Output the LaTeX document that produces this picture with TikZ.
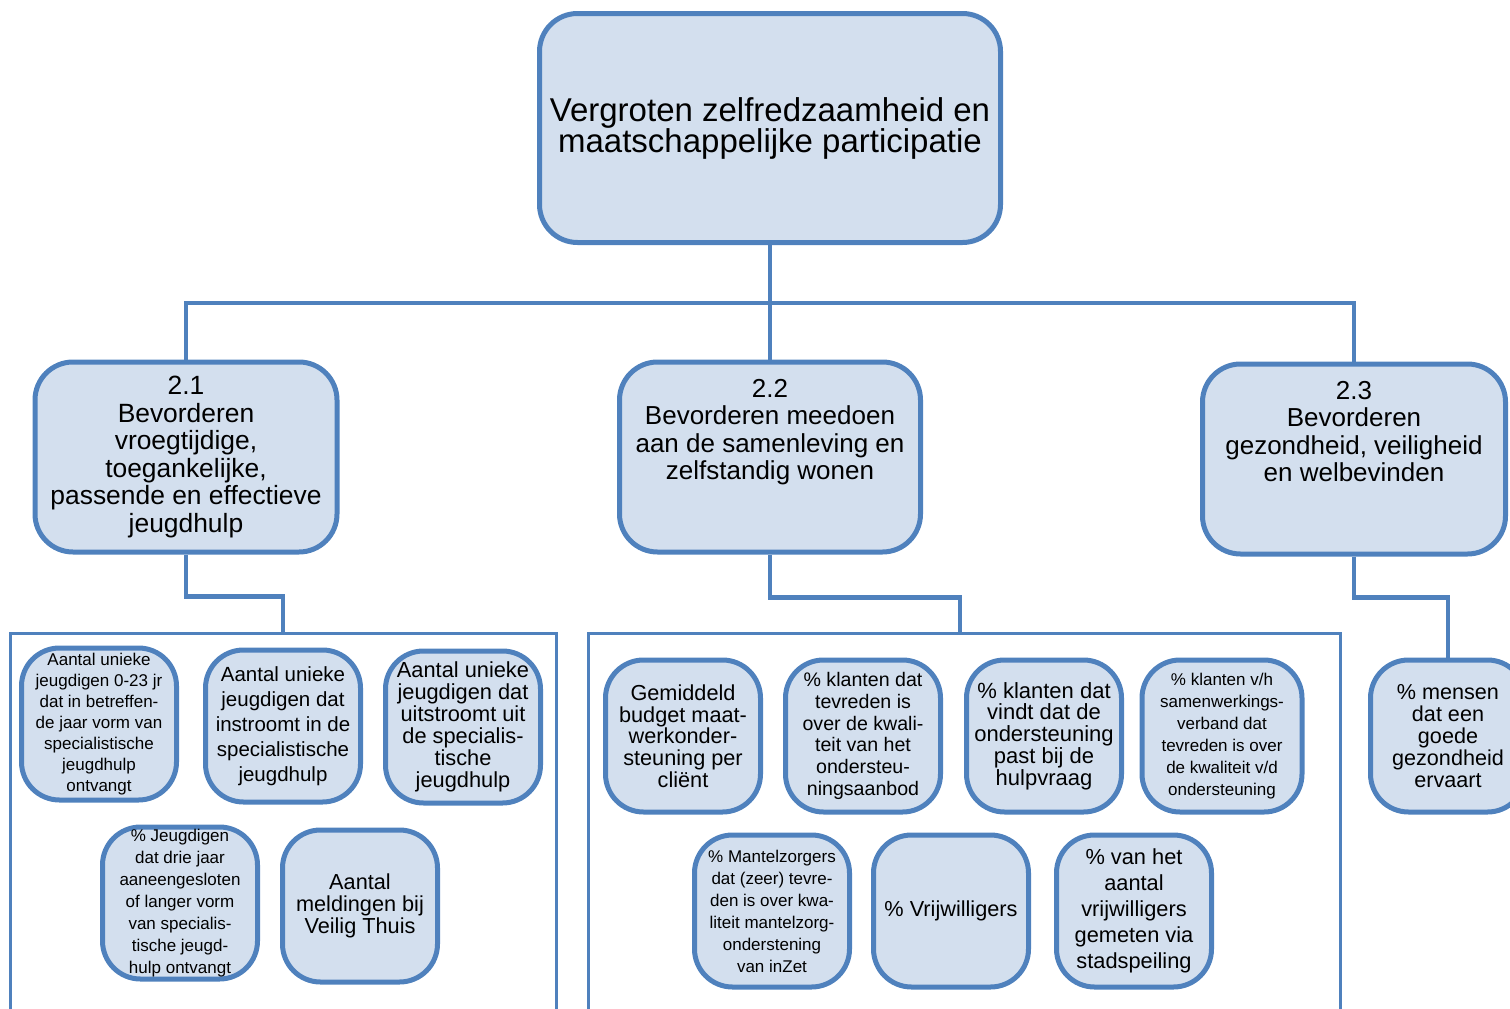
\documentclass[tikz,border=0pt]{standalone}
\usepackage{fontspec}
\setmainfont{Liberation Sans}
\definecolor{boxline}{HTML}{4F81BD}
\definecolor{boxfill}{HTML}{D3DFEE}
\newcommand{\boxtxt}[2]{\fontsize{#1}{#2}\selectfont\lineskiplimit=-100pt\relax}
\tikzset{
  goal/.style={draw=boxline, fill=boxfill, line width=5pt, rounded corners=38pt, align=center, inner sep=0pt},
  leaf/.style={goal, minimum width=155pt, minimum height=152pt},
  link/.style={draw=boxline, line width=4.5pt},
  group/.style={draw=boxline, line width=3pt},
}

\begin{document}
\begin{tikzpicture}[x=1pt,y=-1pt]
\useasboundingbox (0,0) rectangle (1510,1009);

% Top box
\node[goal, minimum width=461pt, minimum height=229pt, font=\boxtxt{33}{31}] (root) at (770,128)
  {Vergroten zelfredzaamheid en\\maatschappelijke participatie};

% Sub-goals
\node[goal, minimum width=302pt, minimum height=190pt, font=\boxtxt{26.4}{27.6}] (b21) at (186,457)
  {2.1\\Bevorderen\\vroegtijdige,\\toegankelijke,\\passende en effectieve\\jeugdhulp};
\node[goal, minimum width=301pt, minimum height=190pt, font=\boxtxt{26}{27.6}] (b22) at (770,457)
  {2.2\\Bevorderen meedoen\\aan de samenleving en\\zelfstandig wonen\\\mbox{}\\\mbox{}};
\node[goal, minimum width=303pt, minimum height=190pt, font=\boxtxt{26}{27.6}] (b23) at (1354,459)
  {2.3\\Bevorderen\\gezondheid, veiligheid\\en welbevinden\\\mbox{}\\\mbox{}};

\draw[link] (root.south) -- ++(0,58) -| (b21.north);
\draw[link] (root.south) -- ++(0,58) -| (b23.north);
\draw[link] (root.south) -- (b22.north);

% Left-hand group
\draw[group] (10,1015) |- (556,633) -- (556,1015);
\coordinate (g21) at (283,633);
\draw[link] (b21.south) -- ++(0,42) -| (g21);

\node[leaf, font=\boxtxt{17}{21}] (l1) at (99,724)
  {Aantal unieke\\jeugdigen 0-23 jr\\dat in betreffen-\\de jaar vorm van\\specialistische\\jeugdhulp\\ontvangt};
\node[leaf, font=\boxtxt{20.5}{25}] (l2) at (283,726)
  {Aantal unieke\\jeugdigen dat\\instroomt in de\\specialistische\\jeugdhulp};
\node[leaf, font=\boxtxt{21.8}{22}] (l3) at (463,727)
  {Aantal unieke\\jeugdigen dat\\uitstroomt uit\\de specialis-\\tische\\jeugdhulp};
\node[leaf, font=\boxtxt{17}{22}] (l4) at (180,903)
  {\% Jeugdigen\\dat drie jaar\\aaneengesloten\\of langer vorm\\van specialis-\\tische jeugd-\\hulp ontvangt};
\node[leaf, font=\boxtxt{21.7}{22}] (l5) at (360,906)
  {Aantal\\meldingen bij\\Veilig Thuis};

% Middle group
\draw[group] (588,1015) |- (1340,633) -- (1340,1015);
\coordinate (g22) at (960,633);
\draw[link] (b22.south) -- ++(0,43) -| (g22);

\node[leaf, font=\boxtxt{21.7}{21.7}] (m1) at (683,736)
  {Gemiddeld\\budget maat-\\werkonder-\\steuning per\\cliënt};
\node[leaf, font=\boxtxt{19.6}{21.7}] (m2) at (863,736)
  {\% klanten dat\\tevreden is\\over de kwali-\\teit van het\\ondersteu-\\ningsaanbod};
\node[leaf, font=\boxtxt{22}{21.7}] (m3) at (1044,736)
  {\% klanten dat\\vindt dat de\\ondersteuning\\past bij de\\hulpvraag};
\node[leaf, minimum width=160pt, font=\boxtxt{17}{22}] (m4) at (1222,736)
  {\% klanten v/h\\samenwerkings-\\verband dat\\tevreden is over\\de kwaliteit v/d\\ondersteuning};
\node[leaf, font=\boxtxt{17}{22}] (m5) at (772,911)
  {\% Mantelzorgers\\dat (zeer) tevre-\\den is over kwa-\\liteit mantelzorg-\\onderstening\\van inZet};
\node[leaf, font=\boxtxt{21.7}{22}] (m6) at (951,911)
  {\% Vrijwilligers};
\node[leaf, font=\boxtxt{21.8}{26}] (m7) at (1134,911)
  {\% van het\\aantal\\vrijwilligers\\gemeten via\\stadspeiling};

% Right-hand leaf
\node[leaf, font=\boxtxt{21.6}{22}] (r1) at (1448,736)
  {\% mensen\\dat een\\goede\\gezondheid\\ervaart};
\draw[link] (b23.south) -- ++(0,41) -| (r1.north);
\end{tikzpicture}
\end{document}
